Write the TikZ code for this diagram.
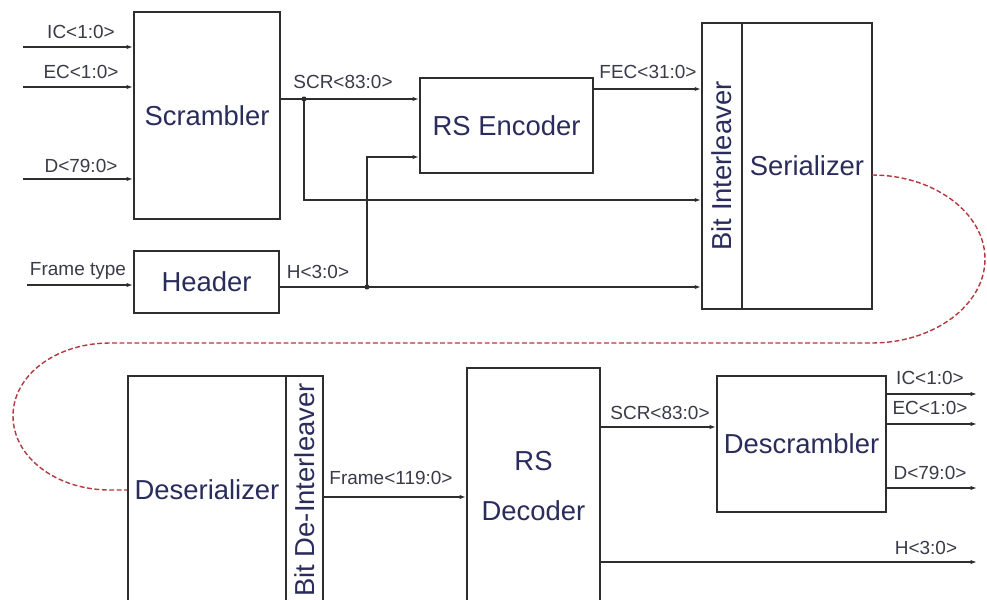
\documentclass[tikz,border=0pt]{standalone}
\usepackage{fontspec}
\setmainfont{Liberation Sans}
\usetikzlibrary{arrows.meta}
\definecolor{wire}{HTML}{2E2E2E}
\definecolor{boxtext}{HTML}{2A2D5C}
\definecolor{bustext}{HTML}{3A3B48}
\definecolor{linkred}{HTML}{B23A40}

\begin{document}
\begin{tikzpicture}[x=0.025cm,y=-0.025cm,
  block/.style={draw=wire,line width=1.3pt,inner sep=0pt,text=boxtext,
    font=\fontsize{19.5}{23}\selectfont},
  sig/.style={draw=wire,line width=1.1pt,-{Latex[length=4.5pt,width=3pt]}},
  wireonly/.style={draw=wire,line width=1.1pt},
  bus/.style={text=bustext,inner sep=0pt,font=\fontsize{13.5}{16}\selectfont},
  link/.style={draw=linkred,line width=1pt,dash pattern=on 3.5pt off 1.8pt}]
  \clip (0,0) rectangle (987,599);
  \fill[white] (0,0) rectangle (987,599);

  % transmitter side
  \node[block,minimum width=3.65cm,minimum height=5.175cm] (scr) at (207,115.5) {Scrambler};
  \node[block,minimum width=3.625cm,minimum height=1.55cm] (hdr) at (206.5,282) {Header};
  \node[block,minimum width=4.325cm,minimum height=2.375cm] (enc) at (506.5,125.5) {RS Encoder};
  \node[block,minimum width=1cm,minimum height=7.15cm] (bil) at (722,166) {\rotatebox{90}{Bit Interleaver}};
  \node[block,minimum width=3.25cm,minimum height=7.15cm] (ser) at (807,166) {Serializer};

  \foreach \y/\t/\ly in {47/IC<1:0>/32, 87/EC<1:0>/72, 179/D<79:0>/166} {
    \coordinate (in\y) at (23,\y);
    \draw[sig] (in\y) -- (scr.west |- in\y);
    \node[bus] (lin\y) at (81,\ly) {\t};
  }
  \coordinate (ftin) at (27,285);
  \draw[sig] (ftin) -- (hdr.west |- ftin);
  \node[bus] (lft) at (78,271) {Frame type};

  \coordinate (j1) at (304,99);
  \coordinate (j1low) at (304,200);
  \coordinate (j2) at (367,287);
  \coordinate (j2up) at (367,157);
  \coordinate (fec) at (593,89);
  \draw[sig] (scr.east |- j1) -- (enc.west |- j1);
  \draw[sig] (j1) -- (j1low) -- (bil.west |- j1low);
  \draw[sig] (hdr.east |- j2) -- (bil.west |- j2);
  \draw[sig] (j2) -- (j2up) -- (enc.west |- j2up);
  \draw[sig] (enc.east |- fec) -- (bil.west |- fec);
  \fill[wire] (j1) circle (1.8pt);
  \fill[wire] (j2) circle (1.8pt);
  \node[bus] (lscr) at (343,82) {SCR<83:0>};
  \node[bus] (lh) at (318,272) {H<3:0>};
  \node[bus] (lfec) at (648,72) {FEC<31:0>};

  % channel
  \coordinate (tx) at (872,175);
  \coordinate (rx) at (128,490);
  \draw[link] (tx) .. controls (934,175) and (985,213) .. (985,259)
    .. controls (985,305) and (934,343) .. (872,343) -- (110,343)
    .. controls (56,343) and (13,375) .. (13,416)
    .. controls (13,457) and (56,490) .. (110,490) -- (rx);

  % receiver side
  \node[block,minimum width=3.95cm,minimum height=5.7cm] (des) at (207,490) {Deserializer};
  \node[block,minimum width=0.925cm,minimum height=5.7cm] (dil) at (304.5,490) {\rotatebox{90}{Bit De-Interleaver}};
  \node[block,minimum width=3.325cm,minimum height=5.9cm,align=center,
    font=\fontsize{19.5}{35}\selectfont] (dec) at (533.5,486) {RS\\Decoder};
  \node[block,minimum width=4.225cm,minimum height=3.4cm] (dsc) at (801.5,444) {Descrambler};

  \coordinate (fr) at (323,497);
  \coordinate (sc) at (600,427);
  \draw[sig] (dil.east |- fr) -- (dec.west |- fr);
  \draw[sig] (dec.east |- sc) -- (dsc.west |- sc);
  \node[bus] (lfr) at (391,478) {Frame<119:0>};
  \node[bus] (lsc) at (660,413) {SCR<83:0>};

  \foreach \y/\t/\ly in {394/IC<1:0>/378, 424/EC<1:0>/408, 488/D<79:0>/473} {
    \coordinate (out\y) at (977,\y);
    \draw[sig] (dsc.east |- out\y) -- (out\y);
    \node[bus] (lout\y) at (930,\ly) {\t};
  }
  \coordinate (outh) at (977,562);
  \draw[sig] (dec.east |- outh) -- (outh);
  \node[bus] (louth) at (926,548) {H<3:0>};
\end{tikzpicture}
\end{document}
